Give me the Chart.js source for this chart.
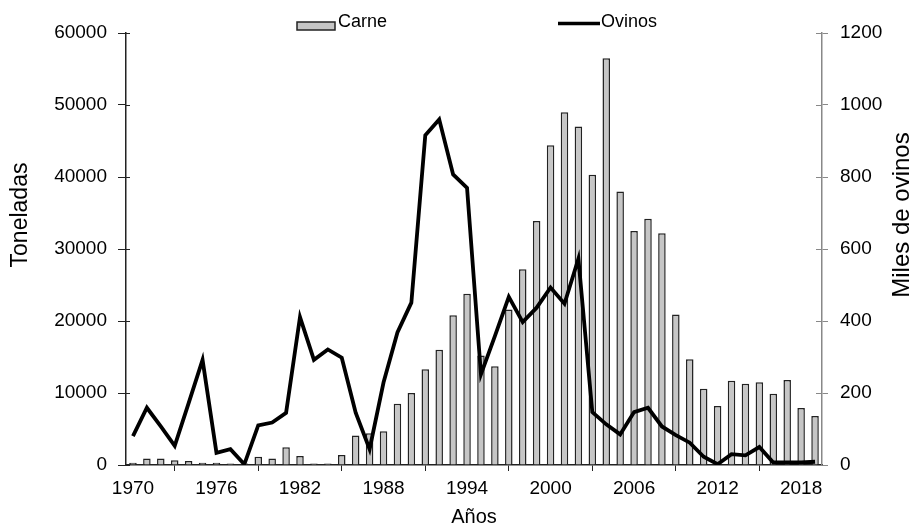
<!DOCTYPE html>
<html>
<head>
<meta charset="utf-8">
<script src="https://cdn.jsdelivr.net/npm/chart.js@4.4.1/dist/chart.umd.min.js"></script>
<style>
  body { margin: 0; background: #fff; }
  #caja { width: 915px; height: 529px; }
</style>
</head>
<body>
<div id="caja"><canvas id="grafica"></canvas></div>
<script>
// datos
const anios = ['1970','1971','1972','1973','1974','1975','1976','1977','1978','1979',
  '1980','1981','1982','1983','1984','1985','1986','1987','1988','1989',
  '1990','1991','1992','1993','1994','1995','1996','1997','1998','1999',
  '2000','2001','2002','2003','2004','2005','2006','2007','2008','2009',
  '2010','2011','2012','2013','2014','2015','2016','2017','2018','2019'];

// toneladas de carne
const carne = [300, 900, 900, 650, 550, 300, 300, 200, 200, 1150,
  900, 2450, 1250, 200, 200, 1400, 4100, 4400, 4700, 8500,
  10000, 13300, 16000, 20800, 23800, 15200, 13700, 21600, 27200, 33900,
  44400, 49000, 47000, 40300, 56500, 38000, 32500, 34200, 32200, 20900,
  14700, 10600, 8200, 11700, 11300, 11500, 9900, 11800, 7900, 6800];

// miles de ovinos
const ovinos = [80, 159, 107, 53, 172, 292, 34, 44, 2, 110,
  118, 145, 411, 292, 321, 298, 145, 44, 229, 368,
  451, 916, 960, 807, 770, 252, 358, 467, 397, 437,
  493, 448, 573, 147, 113, 85, 147, 159, 107, 83,
  62, 23, 2, 30, 27, 50, 7, 7, 7, 9];

// etiquetas visibles del eje x (cada 6 anios)
const aniosEtiqueta = ['1970','1976','1982','1988','1994','2000','2006','2012','2018'];

const fuente = '"Liberation Sans", Arial, sans-serif';
const gris = '#c6c6c6';
const oscuro = '#222';

// leyenda, titulos de los ejes y y marcas hacia dentro dibujados a mano
const extras = {
  id: 'extras',
  beforeDatasetsDraw(chart) {
    const ctx = chart.ctx;
    const area = chart.chartArea;
    ctx.save();
    ctx.lineWidth = 1;
    ctx.strokeStyle = oscuro;
    chart.scales.y.ticks.forEach(t => {
      const py = Math.round(chart.scales.y.getPixelForValue(t.value)) + 0.5;
      ctx.beginPath(); ctx.moveTo(area.left, py); ctx.lineTo(area.left + 4, py); ctx.stroke();
    });
    ctx.strokeStyle = '#888';
    chart.scales.yDer.ticks.forEach(t => {
      const py = Math.round(chart.scales.yDer.getPixelForValue(t.value)) + 0.5;
      ctx.beginPath(); ctx.moveTo(area.right, py); ctx.lineTo(area.right - 6, py); ctx.stroke();
    });
    ctx.restore();
  },
  afterDraw(chart) {
    const ctx = chart.ctx;
    ctx.save();
    ctx.fillStyle = '#000';
    ctx.textBaseline = 'middle';
    ctx.font = '18px ' + fuente;

    // Carne
    ctx.fillStyle = gris;
    ctx.fillRect(297, 22, 38, 8);
    ctx.strokeStyle = oscuro;
    ctx.lineWidth = 1.5;
    ctx.strokeRect(297, 22, 38, 8);
    ctx.fillStyle = '#000';
    ctx.textAlign = 'left';
    ctx.fillText('Carne', 338, 22);

    // Ovinos
    ctx.beginPath();
    ctx.moveTo(558, 23.5);
    ctx.lineTo(600, 23.5);
    ctx.lineWidth = 3.5;
    ctx.strokeStyle = '#000';
    ctx.stroke();
    ctx.fillText('Ovinos', 601, 22);

    // titulos verticales
    ctx.textAlign = 'center';
    ctx.font = '23px ' + fuente;
    ctx.translate(21, 215);
    ctx.rotate(-Math.PI / 2);
    ctx.fillText('Toneladas', 0, 0);
    ctx.restore();

    ctx.save();
    ctx.fillStyle = '#000';
    ctx.textBaseline = 'middle';
    ctx.textAlign = 'center';
    ctx.font = '24px ' + fuente;
    ctx.translate(902, 215);
    ctx.rotate(-Math.PI / 2);
    ctx.fillText('Miles de ovinos', 0, 0);
    ctx.restore();
  }
};

new Chart(document.getElementById('grafica').getContext('2d'), {
  data: {
    labels: anios,
    datasets: [
      {
        type: 'line',
        label: 'Ovinos',
        data: ovinos,
        yAxisID: 'yDer',
        borderColor: '#000',
        borderWidth: 3.8,
        pointRadius: 0,
        tension: 0,
        order: 0
      },
      {
        type: 'bar',
        label: 'Carne',
        data: carne,
        yAxisID: 'y',
        backgroundColor: gris,
        borderColor: oscuro,
        borderWidth: 1.5,
        categoryPercentage: 1,
        barPercentage: 0.54,
        order: 1
      }
    ]
  },
  options: {
    responsive: true,
    maintainAspectRatio: false,
    animation: false,
    layout: { padding: { top: 33 } },
    plugins: {
      legend: { display: false },
      tooltip: { enabled: false }
    },
    scales: {
      x: {
        type: 'category',
        offset: true,
        grid: { offset: true, drawOnChartArea: false, tickLength: 6, color: oscuro },
        border: { color: oscuro, width: 1.5 },
        ticks: {
          autoSkip: false,
          maxRotation: 0,
          padding: 6,
          color: '#000',
          font: { family: fuente, size: 19 },
          callback: function (v) {
            const t = this.getLabelForValue(v);
            return aniosEtiqueta.includes(t) ? t : null;
          }
        },
        title: {
          display: true,
          text: 'Años',
          color: '#000',
          font: { family: fuente, size: 20 },
          padding: { top: 8, bottom: 0 }
        },
        afterFit: s => { s.height = 64; }
      },
      y: {
        position: 'left',
        min: 0,
        max: 60000,
        ticks: {
          stepSize: 10000,
          padding: 11,
          color: '#000',
          font: { family: fuente, size: 19 },
          callback: v => String(v)
        },
        grid: { drawOnChartArea: false, tickLength: 8, color: oscuro },
        border: { color: oscuro, width: 1.5 },
        afterFit: s => { s.width = 126; }
      },
      yDer: {
        position: 'right',
        min: 0,
        max: 1200,
        ticks: {
          stepSize: 200,
          padding: 12,
          color: '#000',
          font: { family: fuente, size: 19 },
          callback: v => String(v)
        },
        grid: { drawOnChartArea: false, tickLength: 6, color: '#888' },
        border: { color: '#888', width: 1.5 },
        afterFit: s => { s.width = 93; }
      }
    }
  },
  plugins: [extras]
});
</script>
</body>
</html>
